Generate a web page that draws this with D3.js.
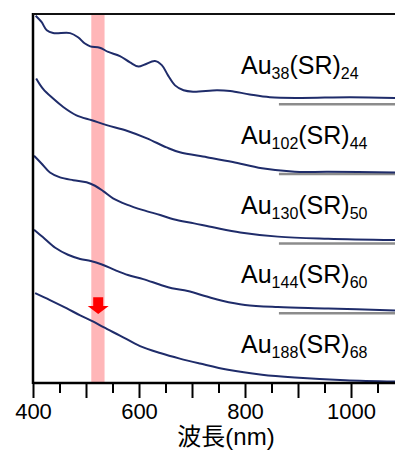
<!DOCTYPE html>
<html>
<head>
<meta charset="utf-8">
<script src="https://cdn.jsdelivr.net/npm/d3@7"></script>
<style>
  body { margin: 0; background: #fff; }
</style>
</head>
<body>
<div id="chart"></div>
<script>
// ---- data (wavelength in nm, absorbance in arb. units, offset per curve) ----
var clusterSizes = ["188", "144", "130", "102", "38"];
var ligandCounts = ["68", "60", "50", "44", "24"];

var au188Nm  = [404, 432, 464, 489, 514, 533, 564, 602, 640, 677, 715, 768, 832, 894, 989, 1083];
var au188Abs = [1.29, 1.19, 1.07, 0.97, 0.88, 0.80, 0.68, 0.53, 0.43, 0.35, 0.28, 0.19, 0.12, 0.08, 0.04, 0.02];

var au144Nm  = [402, 419, 442, 466, 489, 509, 530, 555, 579, 608, 640, 662, 692, 728, 757, 800, 862, 957, 1083];
var au144Abs = [1.20, 1.09, 0.94, 0.84, 0.78, 0.75, 0.70, 0.62, 0.55, 0.49, 0.41, 0.36, 0.32, 0.24, 0.18, 0.12, 0.09, 0.07, 0.04];

var au130Nm  = [402, 416, 432, 451, 476, 501, 517, 533, 551, 577, 608, 640, 665, 704, 742, 791, 862, 957, 1083];
var au130Abs = [1.26, 1.15, 1.02, 0.95, 0.91, 0.88, 0.83, 0.75, 0.65, 0.56, 0.48, 0.41, 0.35, 0.29, 0.23, 0.16, 0.10, 0.07, 0.05];

var au102Nm  = [406, 419, 438, 457, 482, 511, 539, 577, 615, 652, 677, 728, 777, 832, 894, 957, 1083];
var au102Abs = [1.37, 1.22, 1.08, 0.96, 0.84, 0.77, 0.70, 0.62, 0.51, 0.38, 0.31, 0.24, 0.17, 0.08, 0.03, 0.03, 0.02];

var au38Nm  = [405, 416, 426, 438, 470, 485, 498, 508, 526, 542, 564, 583, 599, 611, 630, 643, 655, 668, 684, 702, 747, 772, 809, 847, 904, 998, 1083];
var au38Abs = [1.27, 1.18, 1.06, 1.02, 1.02, 0.96, 0.87, 0.83, 0.81, 0.75, 0.69, 0.60, 0.54, 0.57, 0.62, 0.56, 0.41, 0.27, 0.20, 0.18, 0.20, 0.19, 0.14, 0.10, 0.09, 0.10, 0.09];

var seriesNm  = [au188Nm, au144Nm, au130Nm, au102Nm, au38Nm];
var seriesAbs = [au188Abs, au144Abs, au130Abs, au102Abs, au38Abs];

var majorTicks = [400, 500, 600, 700, 800, 900, 1000];
var minorTicks = [450, 550, 650, 750, 850, 950, 1050];
var tickLabels = [400, 600, 800, 1000];

var bandNm = [510, 535];   // highlighted wavelength range
var arrowNm = 523;         // red arrow position
var arrowAbs = [1.23, 0.99];

// ---- layout ----
var width = 395, height = 450;
var margin = { left: 33, top: 14, bottom: 383, right: 395 };

var svg = d3.select('#chart').append('svg')
  .attr('width', width).attr('height', height)
  .style('font-family', '"Liberation Sans", Arial, sans-serif');

var x = d3.scaleLinear().domain([400, 1083]).range([margin.left, margin.right]);
var y = d3.scaleLinear().domain([0, 5.294]).range([margin.bottom, margin.top]);

// pink band
svg.append('rect')
  .attr('x', x(bandNm[0])).attr('y', margin.top)
  .attr('width', x(bandNm[1]) - x(bandNm[0]))
  .attr('height', margin.bottom - margin.top)
  .attr('fill', '#ffb6b8');

// gray baselines for offset curves
svg.selectAll('.baseline').data([1, 2, 3, 4]).enter().append('line')
  .attr('class', 'baseline')
  .attr('x1', x(864)).attr('x2', x(1083))
  .attr('y1', function(d) { return y(d); }).attr('y2', function(d) { return y(d); })
  .attr('stroke', '#8c8c8c').attr('stroke-width', 2.5);

// spectra
var line = d3.line()
  .x(function(d) { return x(d[0]); })
  .y(function(d) { return y(d[1]); })
  .curve(d3.curveCatmullRom);

svg.selectAll('.spectrum').data(seriesNm).enter().append('path')
  .attr('class', 'spectrum')
  .attr('d', function(nm, i) {
    return line(nm.map(function(w, j) { return [w, seriesAbs[i][j] + i]; }));
  })
  .attr('fill', 'none').attr('stroke', '#1f2c6a').attr('stroke-width', 2);

// red arrow
var ax = x(arrowNm), aTop = y(arrowAbs[0]), aTip = y(arrowAbs[1]);
var aNeck = aTip - 8;
svg.append('path')
  .attr('d', 'M' + (ax - 5) + ',' + aTop + 'H' + (ax + 5) + 'V' + aNeck + 'H' + (ax + 10.5) +
             'L' + ax + ',' + aTip + 'L' + (ax - 10.5) + ',' + aNeck + 'H' + (ax - 5) + 'Z')
  .attr('fill', '#ff0000');

// axes
var axisG = svg.append('g').attr('transform', 'translate(0,' + margin.bottom + ')');
axisG.append('g')
  .call(d3.axisBottom(x).tickValues(minorTicks).tickSize(10).tickFormat('').tickSizeOuter(0))
  .call(function(g) { g.select('.domain').remove(); });
axisG.append('g')
  .call(d3.axisBottom(x).tickValues(majorTicks).tickSize(15).tickPadding(5).tickSizeOuter(0)
    .tickFormat(function(d) { return tickLabels.indexOf(d) >= 0 ? d : ''; }))
  .call(function(g) { g.select('.domain').remove(); });
axisG.selectAll('.tick line').attr('stroke', '#000').attr('stroke-width', 2);
axisG.selectAll('.tick text')
  .attr('fill', '#000').style('font-size', '22px')
  .style('font-family', '"Liberation Sans", Arial, sans-serif');

svg.append('line')
  .attr('x1', margin.left).attr('x2', margin.right)
  .attr('y1', margin.bottom).attr('y2', margin.bottom)
  .attr('stroke', '#000').attr('stroke-width', 2.5);
svg.append('line')
  .attr('x1', margin.left).attr('x2', margin.left)
  .attr('y1', margin.top - 1).attr('y2', margin.bottom + 1)
  .attr('stroke', '#000').attr('stroke-width', 2.5);
svg.append('line')
  .attr('x1', margin.left).attr('x2', margin.right)
  .attr('y1', margin.top).attr('y2', margin.top)
  .attr('stroke', '#111').attr('stroke-width', 2);

// x axis title
svg.append('text')
  .attr('x', 226).attr('y', 445)
  .attr('text-anchor', 'middle')
  .style('font-size', '24px')
  .style('font-family', '"Liberation Sans", "Noto Sans CJK JP", sans-serif')
  .text('波長(nm)');

// cluster labels
var labels = svg.selectAll('.label').data(clusterSizes).enter().append('text')
  .attr('class', 'label')
  .attr('x', 241)
  .attr('y', function(d, i) { return y(i) - 30; })
  .style('font-size', '25px').attr('fill', '#000');
labels.append('tspan').text('Au');
labels.append('tspan').attr('dy', 5).style('font-size', '16px').text(function(d) { return d; });
labels.append('tspan').attr('dy', -5).text('(SR)');
labels.append('tspan').attr('dy', 5).style('font-size', '16px').text(function(d, i) { return ligandCounts[i]; });
</script>
</body>
</html>
